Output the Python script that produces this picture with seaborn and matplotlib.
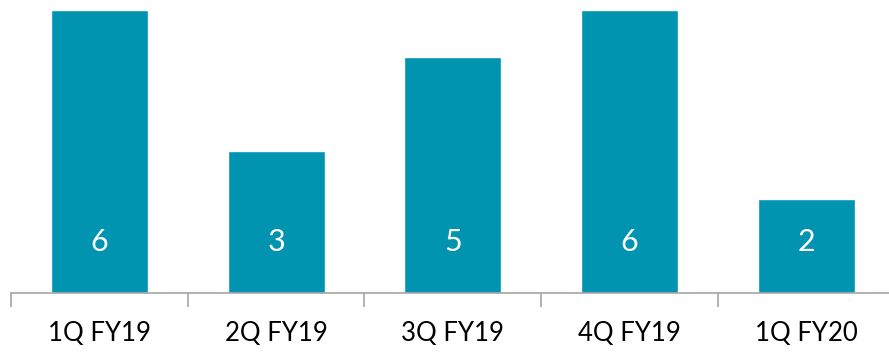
import seaborn as sns
import matplotlib.pyplot as plt
import pandas as pd

quarters = ["1Q FY19", "2Q FY19", "3Q FY19", "4Q FY19", "1Q FY20"]
counts = [6, 3, 5, 6, 2]


def main():
    df = pd.DataFrame({"Quarter": quarters, "Count": counts})

    sns.set_style("white")
    plt.rcParams['font.family'] = ['Lato', 'DejaVu Sans']

    fig = plt.figure(figsize=(8.89, 3.52), dpi=100)
    ax = fig.add_axes([0.0126, 0.168, 0.9935, 0.804])

    sns.barplot(data=df, x="Quarter", y="Count", color="#0094B1", width=0.55,
                saturation=1, ax=ax)

    # value labels inside the bars, near the bottom
    for i, v in enumerate(counts):
        ax.text(i, 1.08, str(v), ha="center", va="center", color="white", fontsize=22)

    ax.set_ylim(0, 6)
    ax.set_xlim(-0.5, len(quarters) - 0.5)
    ax.set_xlabel("")
    ax.set_ylabel("")
    ax.set_yticks([])

    # category labels without tick marks, separators between categories
    ax.set_xticks(range(len(quarters)))
    ax.set_xticklabels(quarters, fontsize=18.5)
    ax.tick_params(axis="x", which="major", bottom=True, length=0, pad=20, colors="black")
    ax.set_xticks([i - 0.5 for i in range(len(quarters) + 1)], minor=True)
    ax.tick_params(axis="x", which="minor", bottom=True, length=10, width=1.2,
                   color="#A6A6A6", direction="out")

    for s in ["left", "right", "top"]:
        ax.spines[s].set_visible(False)
    ax.spines["bottom"].set_color("#A6A6A6")
    ax.spines["bottom"].set_linewidth(1.2)

    fig.savefig("out.png", dpi=100)


if __name__ == '__main__':
    main()
